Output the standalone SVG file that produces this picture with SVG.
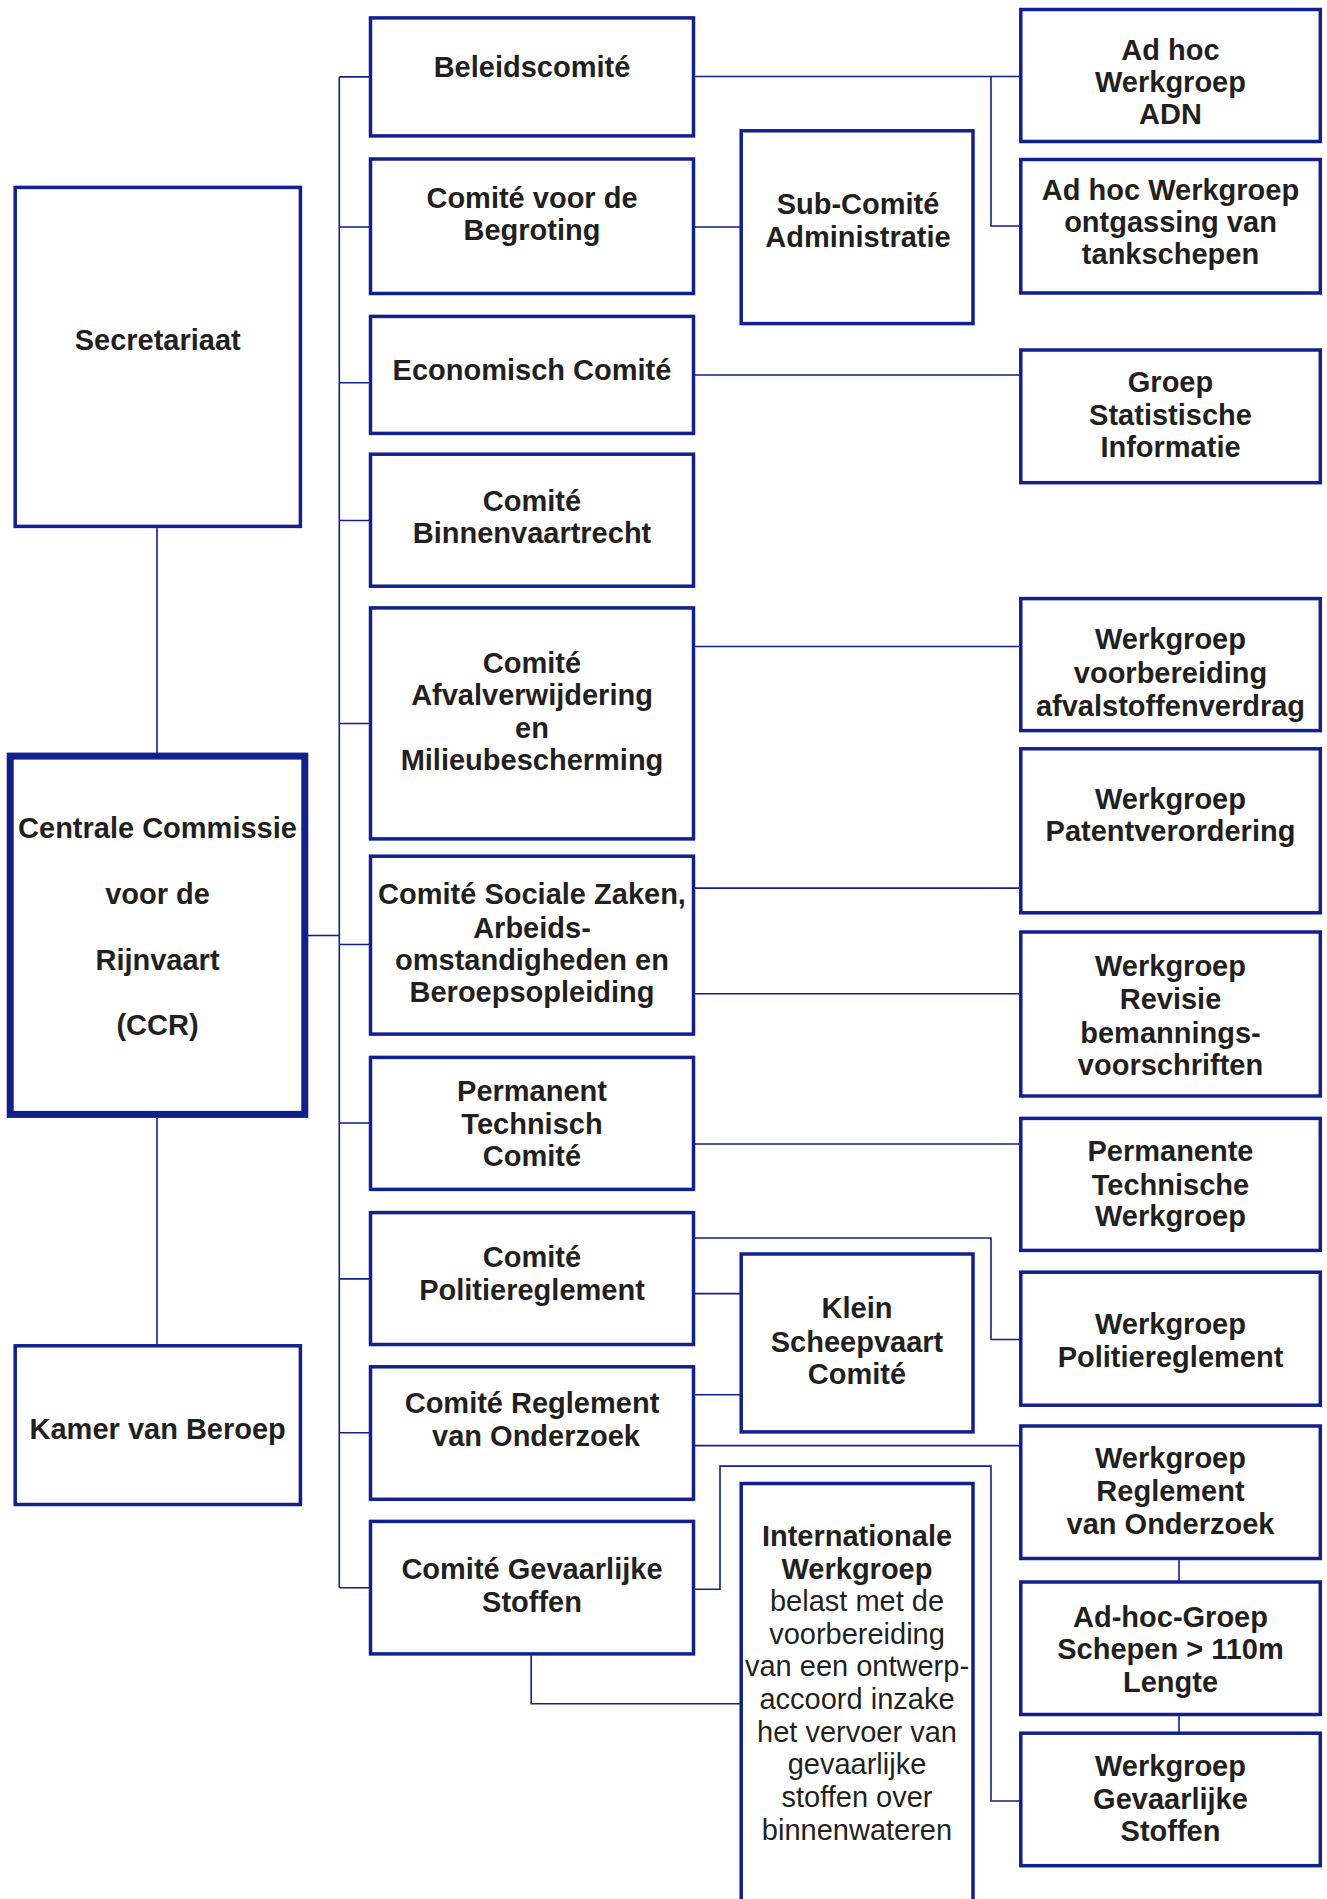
<svg xmlns="http://www.w3.org/2000/svg" width="1327" height="1899" viewBox="0 0 1327 1899">
<style>
.box{fill:#fff;stroke:#121f8e;stroke-width:3.5}
.main{fill:#fff;stroke:#121f8e;stroke-width:7}
.c{fill:none;stroke:#121f8e;stroke-width:1.6}
text{font-family:"Liberation Sans",Arial,sans-serif;font-size:29px;font-weight:bold;fill:#231f20;text-anchor:middle}
text.r{font-weight:normal}
</style>
<rect x="0" y="0" width="1327" height="1899" fill="#fff"/>
<g id="connectors">
<path class="c" d="M339.3 76.9V1587.8"/>
<path class="c" d="M339.3 76.9H370M339.3 227H370M339.3 382.7H370M339.3 520.5H370M339.3 723.5H370M339.3 944.5H370M339.3 1123H370M339.3 1278.9H370M339.3 1432.7H370M339.3 1587.8H370"/>
<path class="c" d="M308 935.5H339.3"/>
<path class="c" d="M157 528V753M157 1118V1344"/>
<path class="c" d="M695 76.5H1019M991 76.5V226H1019"/>
<path class="c" d="M695 227H740"/>
<path class="c" d="M695 375H1019"/>
<path class="c" d="M695 646.5H1019"/>
<path class="c" d="M695 888.1H1019M695 993.7H1019"/>
<path class="c" d="M695 1144H1019"/>
<path class="c" d="M695 1238H991V1339.5H1019"/>
<path class="c" d="M695 1293.6H740M695 1394.8H740"/>
<path class="c" d="M695 1445.6H1019"/>
<path class="c" d="M1179 1560V1581M1179 1716V1732"/>
<path class="c" d="M695 1589.2H720V1466.1H991V1801H1019"/>
<path class="c" d="M531.2 1655.6V1703.8H740"/>
</g>
<g id="secretariaat"><rect class="box" x="15.2" y="187.4" width="285.2" height="339"/><text x="157.7" y="350.2">Secretariaat</text></g>
<g id="ccr"><rect class="main" x="10.2" y="756.1" width="294.6" height="358.3"/>
<text x="157.5" y="838.3">Centrale Commissie</text><text x="157.5" y="904">voor de</text><text x="157.5" y="970">Rijnvaart</text><text x="157.5" y="1035">(CCR)</text></g>
<g id="kamer"><rect class="box" x="15.2" y="1345.8" width="285.2" height="158.7"/><text x="157.7" y="1438.5">Kamer van Beroep</text></g>

<g id="beleidscomite"><rect class="box" x="370.5" y="17.9" width="323" height="118"/><text x="532" y="76.5">Beleidscomité</text></g>
<g id="begroting"><rect class="box" x="370.5" y="159" width="323" height="134.5"/><text x="532" y="207.7">Comité voor de</text><text x="532" y="240">Begroting</text></g>
<g id="economisch"><rect class="box" x="370.5" y="316.4" width="323" height="117"/><text x="532" y="380">Economisch Comité</text></g>
<g id="binnenvaartrecht"><rect class="box" x="370.5" y="454.2" width="323" height="132"/><text x="532" y="510.9">Comité</text><text x="532" y="543.4">Binnenvaartrecht</text></g>
<g id="afvalverwijdering"><rect class="box" x="370.5" y="607.9" width="323" height="231"/><text x="532" y="672.6">Comité</text><text x="532" y="705">Afvalverwijdering</text><text x="532" y="737.5">en</text><text x="532" y="770.3">Milieubescherming</text></g>
<g id="sociale"><rect class="box" x="370.5" y="856.2" width="323" height="177.9"/><text x="532" y="904">Comité Sociale Zaken,</text><text x="532" y="937.5">Arbeids-</text><text x="532" y="969.5">omstandigheden en</text><text x="532" y="1001.7">Beroepsopleiding</text></g>
<g id="ptc"><rect class="box" x="370.5" y="1057.4" width="323" height="132"/><text x="532" y="1101">Permanent</text><text x="532" y="1133.5">Technisch</text><text x="532" y="1166.3">Comité</text></g>
<g id="politiereglement"><rect class="box" x="370.5" y="1212.6" width="323" height="131.9"/><text x="532" y="1266.9">Comité</text><text x="532" y="1300.3">Politiereglement</text></g>
<g id="reglement"><rect class="box" x="370.5" y="1366.8" width="323" height="132.5"/><text x="532" y="1413">Comité Reglement</text><text x="536" y="1446">van Onderzoek</text></g>
<g id="gevaarlijke"><rect class="box" x="370.5" y="1521.4" width="323" height="132.5"/><text x="532" y="1579">Comité Gevaarlijke</text><text x="532" y="1612.4">Stoffen</text></g>

<g id="subcomite"><rect class="box" x="741.2" y="130.8" width="231.8" height="192.8"/><text x="858" y="214.3">Sub-Comité</text><text x="858" y="246.8">Administratie</text></g>
<g id="klein"><rect class="box" x="741.2" y="1254" width="231.8" height="177.9"/><text x="857" y="1318">Klein</text><text x="857" y="1351.6">Scheepvaart</text><text x="857" y="1384">Comité</text></g>
<g id="internationale"><rect class="box" x="741.2" y="1483.5" width="231.8" height="440"/>
<text x="857" y="1545.5">Internationale</text><text x="857" y="1579">Werkgroep</text>
<text class="r" x="857" y="1610.5">belast met de</text><text class="r" x="857" y="1643.5">voorbereiding</text><text class="r" x="857" y="1676">van een ontwerp-</text><text class="r" x="857" y="1708.5">accoord inzake</text><text class="r" x="857" y="1741.5">het vervoer van</text><text class="r" x="857" y="1774">gevaarlijke</text><text class="r" x="857" y="1807">stoffen over</text><text class="r" x="857" y="1839.7">binnenwateren</text></g>

<g id="adn"><rect class="box" x="1020.8" y="9.5" width="299.5" height="132"/><text x="1170.5" y="60.1">Ad hoc</text><text x="1170.5" y="91.8">Werkgroep</text><text x="1170.5" y="124.4">ADN</text></g>
<g id="ontgassing"><rect class="box" x="1020.8" y="159.5" width="299.5" height="133.5"/><text x="1170.5" y="199.8">Ad hoc Werkgroep</text><text x="1170.5" y="231.5">ontgassing van</text><text x="1170.5" y="264">tankschepen</text></g>
<g id="statistische"><rect class="box" x="1020.8" y="350" width="299.5" height="132.7"/><text x="1170.5" y="392.3">Groep</text><text x="1170.5" y="424.8">Statistische</text><text x="1170.5" y="457.3">Informatie</text></g>
<g id="afvalstoffenverdrag"><rect class="box" x="1020.8" y="598.6" width="299.5" height="132"/><text x="1170.5" y="649.4">Werkgroep</text><text x="1170.5" y="683.1">voorbereiding</text><text x="1170.5" y="715.5">afvalstoffenverdrag</text></g>
<g id="patent"><rect class="box" x="1020.8" y="748.8" width="299.5" height="164"/><text x="1170.5" y="808.5">Werkgroep</text><text x="1170.5" y="841">Patentverordering</text></g>
<g id="revisie"><rect class="box" x="1020.8" y="932" width="299.5" height="164"/><text x="1170.5" y="975.6">Werkgroep</text><text x="1170.5" y="1009.3">Revisie</text><text x="1170.5" y="1043">bemannings-</text><text x="1170.5" y="1074.6">voorschriften</text></g>
<g id="ptw"><rect class="box" x="1020.8" y="1118.4" width="299.5" height="132"/><text x="1170.5" y="1160.8">Permanente</text><text x="1170.5" y="1194.5">Technische</text><text x="1170.5" y="1226">Werkgroep</text></g>
<g id="wpolitie"><rect class="box" x="1020.8" y="1272.2" width="299.5" height="133"/><text x="1170.5" y="1333.7">Werkgroep</text><text x="1170.5" y="1367.2">Politiereglement</text></g>
<g id="wreglement"><rect class="box" x="1020.8" y="1426" width="299.5" height="132.5"/><text x="1170.5" y="1467.5">Werkgroep</text><text x="1170.5" y="1501">Reglement</text><text x="1170.5" y="1534.4">van Onderzoek</text></g>
<g id="adhocgroep"><rect class="box" x="1020.8" y="1582" width="299.5" height="132.5"/><text x="1170.5" y="1626.6">Ad-hoc-Groep</text><text x="1170.5" y="1659.2">Schepen &gt; 110m</text><text x="1170.5" y="1691.7">Lengte</text></g>
<g id="wgevaarlijke"><rect class="box" x="1020.8" y="1733.2" width="299.5" height="132.5"/><text x="1170.5" y="1776">Werkgroep</text><text x="1170.5" y="1808.5">Gevaarlijke</text><text x="1170.5" y="1841">Stoffen</text></g>
</svg>
